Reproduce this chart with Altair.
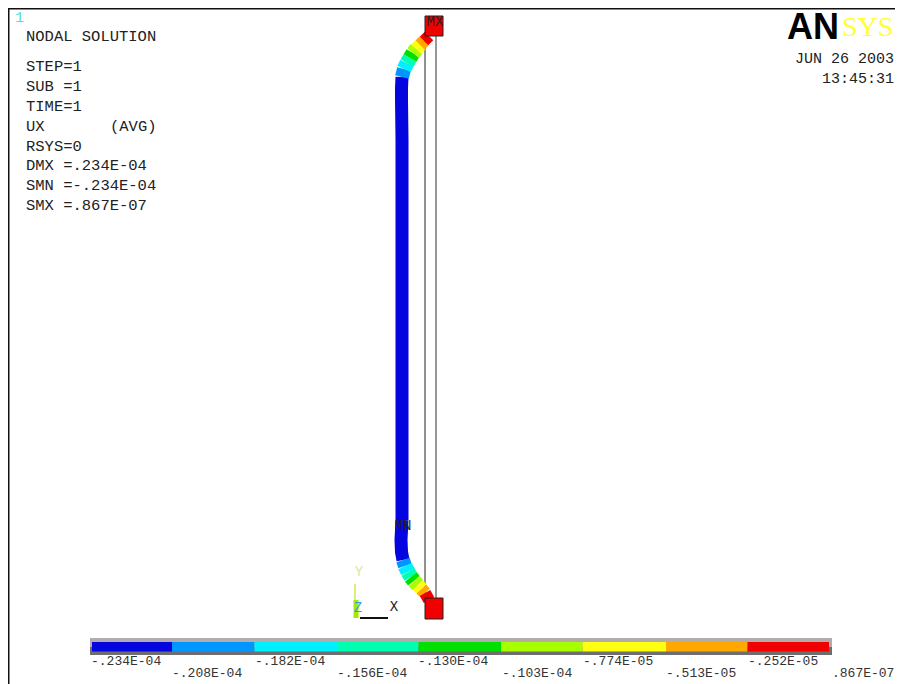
import altair as alt
import pandas as pd

# model coordinates (picture units)
band_colors = ["#0505e0", "#0096ff", "#00f0ff", "#00ffb0", "#00e000", "#a8ff00", "#ffff10", "#ffa800", "#f00000"]
band_width = [13, 14, 15, 15, 15, 15, 14, 13, 12]

beam_bands = {
    "top": {
        "xs": [[402, 402, 402, 401.5, 401.5, 402], [402, 404], [404, 407], [407, 410], [410, 413], [413, 416.5], [416.5, 420], [420, 424], [424, 429]],
        "ys": [[520, 300, 140, 100, 88, 77], [77, 69], [69, 63], [63, 58], [58, 53], [53, 49], [49, 45], [45, 41], [41, 36]],
    },
    "bottom": {
        "xs": [[402, 401, 401.5, 403], [403, 405], [405, 408], [408, 411], [411, 414], [414, 418], [418, 421.5], [421.5, 425], [425, 429]],
        "ys": [[520, 540, 552, 560], [560, 566], [566, 572], [572, 577], [577, 581], [581, 585], [585, 589], [589, 593], [593, 600]],
    },
}

square_x = [425, 443]
square_top_y = [16, 36]
square_bottom_y = [598, 619]
undeformed_x = [425, 436]
undeformed_y = [34, 600]

bar_edges = [92, 172, 254.5, 337, 418.5, 501, 582.5, 666, 747.5, 829]
bar_labels = ["-.234E-04", "-.208E-04", "-.182E-04", "-.156E-04", "-.130E-04",
              "-.103E-04", "-.774E-05", "-.513E-05", "-.252E-05", ".867E-07"]
label_x = [91, 172, 255, 337, 418, 502, 583, 666, 748, 832]
label_y = [661, 673, 661, 673, 661, 673, 661, 673, 661, 673]

info_lines = ["NODAL SOLUTION", "STEP=1", "SUB =1", "TIME=1", "UX", "RSYS=0",
              "DMX =.234E-04", "SMN =-.234E-04", "SMX =.867E-07"]
info_y = [36, 66, 86, 106, 126, 146, 165, 185, 205]

FONT = "Liberation Mono"
sx = alt.Scale(domain=[8, 895], range=[0, 887], nice=False, zero=False)
sy = alt.Scale(domain=[8, 684], range=[0, 676], nice=False, zero=False)
X = lambda f: alt.X(f, type="quantitative", scale=sx, axis=None)
Y = lambda f: alt.Y(f, type="quantitative", scale=sy, axis=None)


def rects(rows, **kw):
    return alt.Chart(pd.DataFrame(rows)).mark_rect(**kw).encode(
        x=X("x0"), x2="x1", y=Y("y0"), y2="y1",
        color=alt.Color("c:N", scale=None))


def segs(rows, width):
    return alt.Chart(pd.DataFrame(rows)).mark_rule(strokeWidth=width).encode(
        x=X("x0"), x2="x1", y=Y("y0"), y2="y1",
        color=alt.Color("c:N", scale=None))


def texts(rows, size, align="left", font=FONT, weight="normal"):
    return alt.Chart(pd.DataFrame(rows)).mark_text(
        fontSize=size, font=font, align=align, baseline="middle",
        fontWeight=weight).encode(
        x=X("x"), y=Y("y"), text="t:N", color=alt.Color("c:N", scale=None))


layers = []

# page frame
layers.append(segs([
    {"x0": 8, "x1": 895, "y0": 8.5, "y1": 8.5, "c": "#111111"},
    {"x0": 8.5, "x1": 8.5, "y0": 8, "y1": 684, "c": "#111111"},
], 2))

# undeformed outline
layers.append(segs([
    {"x0": undeformed_x[0], "x1": undeformed_x[0], "y0": undeformed_y[0], "y1": undeformed_y[1], "c": "#222222"},
    {"x0": undeformed_x[1], "x1": undeformed_x[1], "y0": undeformed_y[0], "y1": undeformed_y[1], "c": "#333333"},
], 1))

# deformed beam
beam_rows = []
for part, d in beam_bands.items():
    for i, (xs, ys) in enumerate(zip(d["xs"], d["ys"])):
        for k, (xv, yv) in enumerate(zip(xs, ys)):
            beam_rows.append({"id": f"{part}{i}", "x": xv, "y": yv, "k": k, "c": band_colors[i], "w": band_width[i]})
layers.append(alt.Chart(pd.DataFrame(beam_rows)).mark_line(
    strokeCap="butt", strokeJoin="round").encode(
    x=X("x"), y=Y("y"), detail="id:N", order="k:Q",
    strokeWidth=alt.StrokeWidth("w:Q", scale=None),
    color=alt.Color("c:N", scale=None)))

# red end blocks
layers.append(rects([
    {"x0": square_x[0], "x1": square_x[1], "y0": square_top_y[0], "y1": square_top_y[1], "c": band_colors[-1]},
    {"x0": square_x[0], "x1": square_x[1], "y0": square_bottom_y[0], "y1": square_bottom_y[1], "c": band_colors[-1]},
], stroke="#222222", strokeWidth=1))

# contour bar
layers.append(rects([{"x0": 90, "x1": 832, "y0": 638, "y1": 647, "c": "#b4acac"},
                     {"x0": 90, "x1": 832, "y0": 647, "y1": 655, "c": "#6e6e6e"}]))
layers.append(rects([{"x0": bar_edges[i], "x1": bar_edges[i + 1], "y0": 642, "y1": 651.5, "c": band_colors[i]}
                     for i in range(9)]))
layers.append(texts([{"x": a, "y": b, "t": t, "c": "#333333"}
                     for a, b, t in zip(label_x, label_y, bar_labels)], 13))

# information text
layers.append(texts([{"x": 26, "y": b, "t": t, "c": "#222222"} for t, b in zip(info_lines, info_y)]
                    + [{"x": 110, "y": 126, "t": "(AVG)", "c": "#222222"}], 15.5))
layers.append(texts([{"x": 15, "y": 17, "t": "1", "c": "#55dddd"}], 15))
layers.append(texts([{"x": 894, "y": 58, "t": "JUN 26 2003", "c": "#222222"},
                     {"x": 894, "y": 78, "t": "13:45:31", "c": "#222222"}], 15, align="right"))

# logo
layers.append(texts([{"x": 787, "y": 28, "t": "AN", "c": "#000000"}], 36, font="Liberation Sans", weight="bold"))
layers.append(texts([{"x": 842, "y": 28, "t": "SYS", "c": "#ffff33"}], 28, font="Liberation Serif"))

# node tags
layers.append(texts([{"x": 435, "y": 22, "t": "MX", "c": "#222222"},
                     {"x": 403, "y": 526, "t": "MN", "c": "#222222"}], 14, align="center"))

# triad
layers.append(segs([{"x0": 360, "x1": 388, "y0": 618, "y1": 618, "c": "#111111"}], 2))
layers.append(segs([{"x0": 355, "x1": 355, "y0": 584, "y1": 600, "c": "#d8f080"}], 2))
layers.append(segs([{"x0": 356, "x1": 356, "y0": 600, "y1": 618, "c": "#a8e800"}], 5))
layers.append(texts([{"x": 359, "y": 572, "t": "Y", "c": "#d8e8a0"},
                     {"x": 358, "y": 608, "t": "Z", "c": "#30a0e0"},
                     {"x": 394, "y": 607, "t": "X", "c": "#222222"}], 14, align="center"))

chart = alt.layer(*layers).properties(
    width=887, height=676, padding=0, autosize=alt.AutoSizeParams(type="none"),
    background="#ffffff"
).configure_view(stroke=None, clip=False)

chart.save("out.html", embed_options={"renderer": "svg", "actions": False})
